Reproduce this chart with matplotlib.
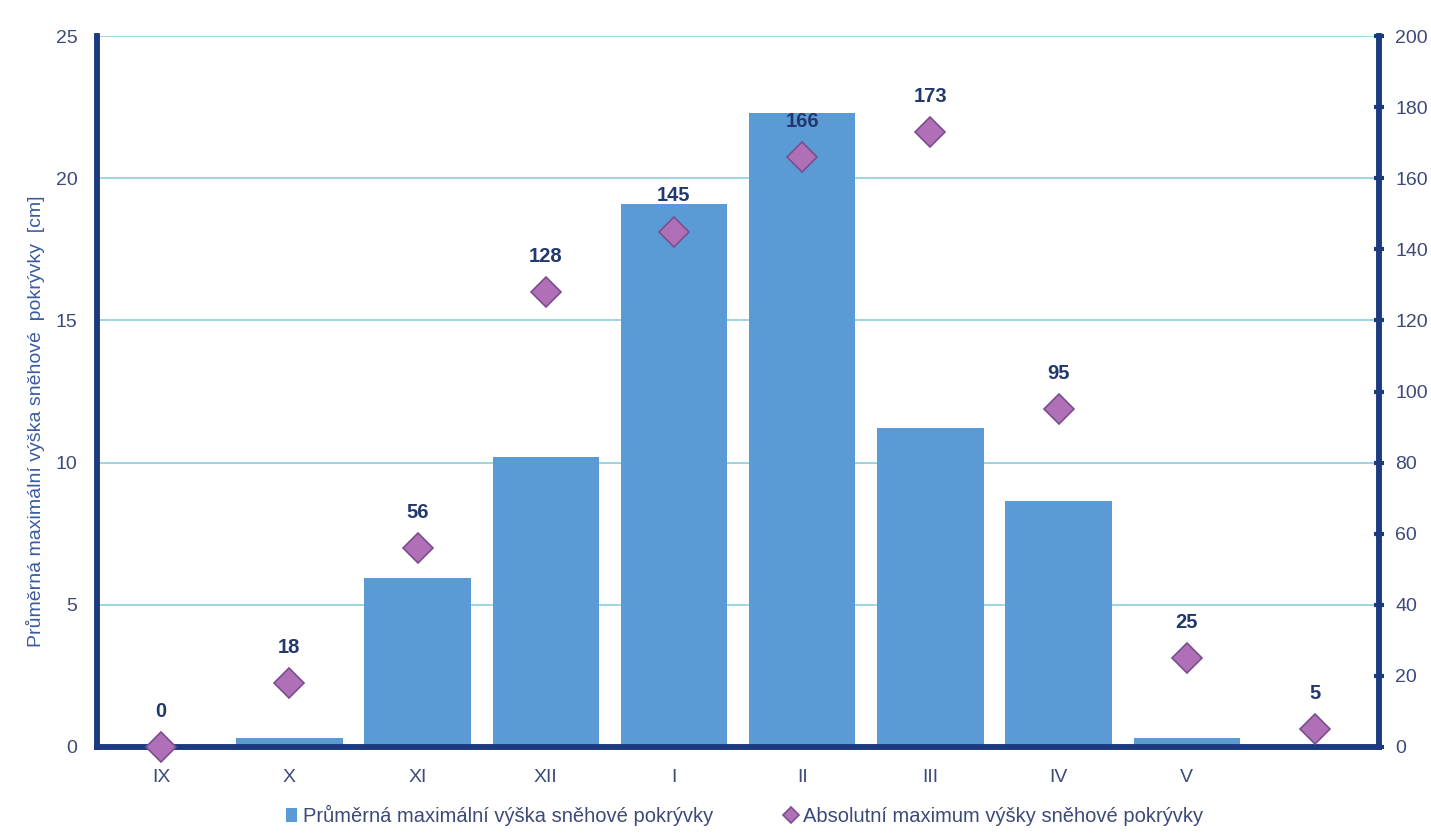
import matplotlib.pyplot as plt
import numpy as np

plt.rcParams["font.family"] = ["Liberation Sans", "DejaVu Sans"]

months = ["IX", "X", "XI", "XII", "I", "II", "III", "IV", "V", ""]
avg_max_snow = [0, 0.3, 5.95, 10.2, 19.1, 22.3, 11.2, 8.65, 0.3, 0]
abs_max_snow = [0, 18, 56, 128, 145, 166, 173, 95, 25, 5]

BAR_COLOR = "#5B9BD5"
DIAMOND_COLOR = "#B070B8"
DIAMOND_EDGE = "#7A4F8E"
SPINE_COLOR = "#1C3A80"
GRID_COLOR = "#8CCFDC"
TICK_COLOR = "#3D4A78"
LABEL_COLOR = "#22386E"

fig = plt.figure(figsize=(14.31, 8.39), dpi=100)
ax = fig.add_axes([0.0678, 0.1097, 0.8959, 0.8473])
ax2 = ax.twinx()

x = np.arange(len(months))
ax.bar(x, avg_max_snow, width=0.83, color=BAR_COLOR, zorder=2,
       label="Průměrná maximální výška sněhové pokrývky")
ax.set_xlim(-0.5, len(months) - 0.5)
ax.set_ylim(0, 25)
ax.set_yticks([0, 5, 10, 15, 20, 25])
ax.yaxis.grid(True, color=GRID_COLOR, linewidth=1.2, zorder=0)
ax.set_axisbelow(True)
ax.set_xticks(x)
ax.set_xticklabels(months)
ax.tick_params(axis="x", length=0, labelsize=14, colors=TICK_COLOR, pad=16)
ax.tick_params(axis="y", length=0, labelsize=14, colors=TICK_COLOR, pad=14)

# y label sits a bit below the axis centre in the original
fig.text(0.025, 1 - 421 / 839, "Průměrná maximální výška sněhové  pokrývky  [cm]",
         rotation=90, ha="center", va="center", fontsize=14, color="#3A5BA0")

ax2.plot(x, abs_max_snow, linestyle="none", marker="D", markersize=15,
         color=DIAMOND_COLOR, markeredgecolor=DIAMOND_EDGE, markeredgewidth=1.2,
         zorder=3, clip_on=False,
         label="Absolutní maximum výšky sněhové pokrývky")
ax2.set_ylim(0, 200)
ax2.set_yticks(np.arange(0, 201, 20))
ax2.tick_params(axis="y", direction="inout", length=7, width=3,
                color=SPINE_COLOR, labelsize=14, labelcolor=TICK_COLOR, pad=8)

for xi, v in zip(x, abs_max_snow):
    ax2.annotate(str(v), (xi, v), xytext=(0, 19), textcoords="offset points",
                 ha="center", va="bottom", fontsize=14.5, fontweight="bold",
                 color=LABEL_COLOR)

for a in (ax, ax2):
    a.spines["top"].set_visible(False)
    for s in ("left", "right", "bottom"):
        a.spines[s].set_color(SPINE_COLOR)
        a.spines[s].set_linewidth(4)

h1, l1 = ax.get_legend_handles_labels()
h2, l2 = ax2.get_legend_handles_labels()
leg = fig.legend(h1 + h2, l1 + l2, loc="center", bbox_to_anchor=(0.52, 0.028),
                 ncol=2, frameon=False, fontsize=14.5, handlelength=0.55,
                 handletextpad=0.3, columnspacing=3.6, markerscale=0.55)
for t in leg.get_texts():
    t.set_color(TICK_COLOR)

fig.savefig("out.png", dpi=100)
